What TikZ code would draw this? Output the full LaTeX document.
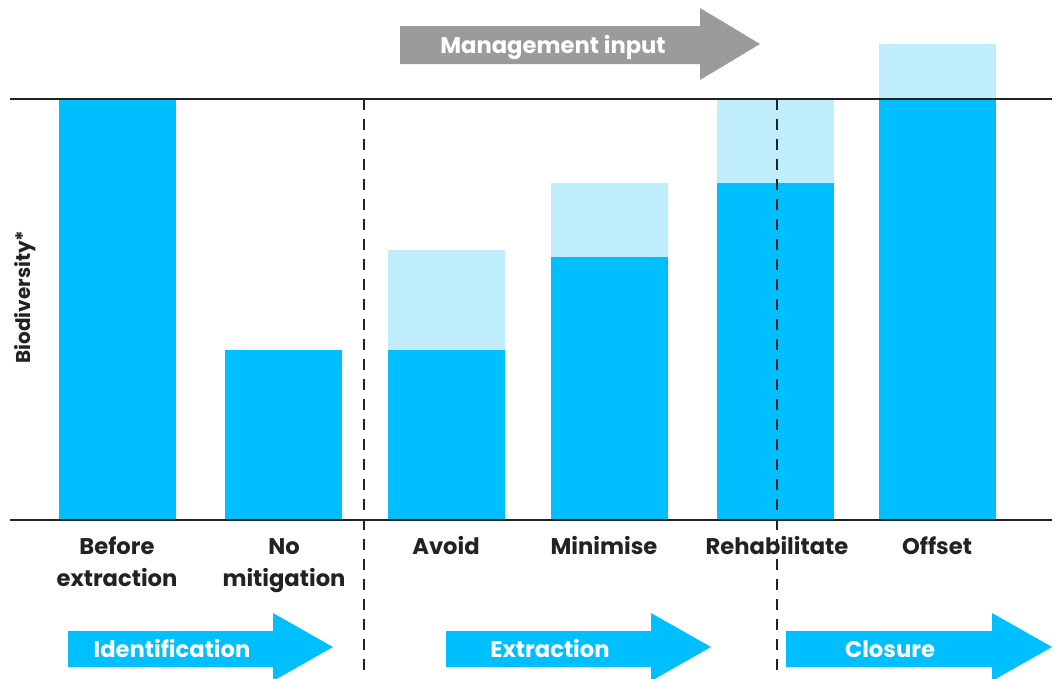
\documentclass[tikz,border=0pt]{standalone}
\usepackage{fontspec}
\setmainfont{Poppins}
\definecolor{bardark}{HTML}{00BFFF}
\definecolor{barlight}{HTML}{C0EDFC}
\definecolor{arrgray}{HTML}{9B9B9B}
\definecolor{ink}{HTML}{222222}
\begin{document}
\begin{tikzpicture}[x=0.75pt,y=-0.75pt,
  dark/.style={fill=bardark,draw=none},
  light/.style={fill=barlight,draw=none},
  axisline/.style={draw=ink,line width=1.6pt},
  divider/.style={draw=ink,line width=1.8pt,dash pattern=on 8.5pt off 6.5pt},
  lbl/.style={text=ink,font=\fontsize{17}{24}\selectfont\bfseries,align=center,anchor=base,inner sep=0pt},
  arrtxt/.style={text=white,font=\fontsize{17}{20}\selectfont\bfseries,anchor=base,inner sep=0pt}]
\useasboundingbox (0,0) rectangle (1062,678);
% bars
\fill[dark] (59,99) rectangle (176,520);
\fill[dark] (225,350) rectangle (342,520);
\fill[light] (388,250) rectangle (505,350);
\fill[dark] (388,350) rectangle (505,520);
\fill[light] (551,183) rectangle (668,257);
\fill[dark] (551,257) rectangle (668,520);
\fill[light] (717,99) rectangle (834,183);
\fill[dark] (717,183) rectangle (834,520);
\fill[light] (879,44) rectangle (996,99);
\fill[dark] (879,99) rectangle (996,520);
% axis lines
\draw[axisline] (10,99) -- (1052,99);
\draw[axisline] (10,520) -- (1052,520);
% dividers
\coordinate (d1t) at (364,99); \coordinate (d1b) at (364,678);
\coordinate (d2t) at (777,99); \coordinate (d2b) at (777,678);
\draw[divider] (d1t) -- (d1b);
\draw[divider] (d2t) -- (d2b);
% management arrow
\fill[arrgray] (400,26) -- (700,26) -- (700,8) -- (760,44) -- (700,80) -- (700,64) -- (400,64) -- cycle;
\node[arrtxt] (mgmt) at (553,53) {Management input};
% phase arrows
\fill[bardark] (68,631) -- (273,631) -- (273,613) -- (333,647) -- (273,681) -- (273,667) -- (68,667) -- cycle;
\node[arrtxt] (ident) at (172,657) {Identification};
\fill[bardark] (446,631) -- (651,631) -- (651,613) -- (711,647) -- (651,681) -- (651,667) -- (446,667) -- cycle;
\node[arrtxt] (extr) at (550,657) {Extraction};
\fill[bardark] (786,631) -- (992,631) -- (992,613) -- (1052,647) -- (992,681) -- (992,667) -- (786,667) -- cycle;
\node[arrtxt] (clos) at (890,657) {Closure};
% labels
\node[lbl] (l1a) at (117,554) {Before};
\node[lbl] (l1b) at (117,586) {extraction};
\node[lbl] (l2a) at (284,554) {No};
\node[lbl] (l2b) at (284,586) {mitigation};
\node[lbl] (l3) at (446,554) {Avoid};
\node[lbl] (l4) at (604,554) {Minimise};
\node[lbl] (l5) at (777,554) {Rehabilitate};
\node[lbl] (l6) at (937,554) {Offset};
\node[text=ink,font=\fontsize{15}{17}\selectfont\bfseries,rotate=90,anchor=base,inner sep=0pt] (ylab) at (31,297) {Biodiversity*};
\end{tikzpicture}
\end{document}
